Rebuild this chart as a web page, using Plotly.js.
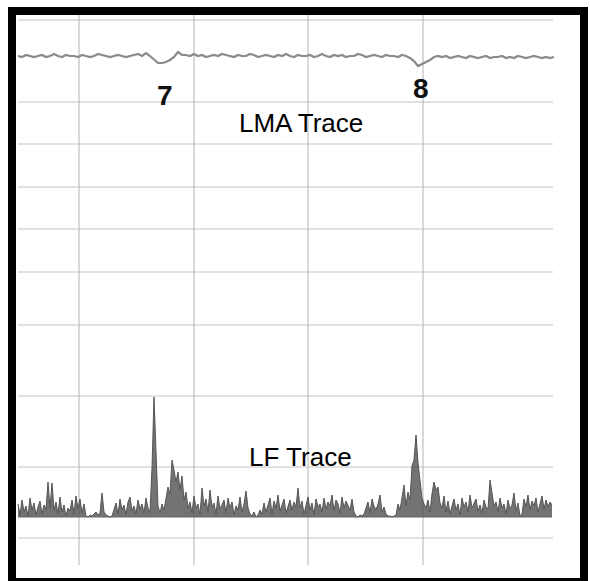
<!DOCTYPE html>
<html>
<head>
<meta charset="utf-8">
<script src="https://cdn.plot.ly/plotly-3.0.1.min.js"></script>
<style>html,body{margin:0;padding:0;background:#fff;}#chart{width:590px;height:581px;}</style>
</head>
<body>
<div id="chart"></div>
<script>
// Sample positions (horizontal, chart units) and amplitudes (vertical, chart units)
const lmaStart = 18, lmaStep = 4;
const lmaValues = [
  522,521,523,522,521,522,523,521,522,524,522,521,523,522,522,521,523,522,521,522,524,523,522,521,522,523,522,521,522,523,524,522,525,
  522,518,515,515,516,518,521,526,523,
  523,522,524,522,523,521,522,523,522,524,523,522,521,523,522,522,524,523,521,522,523,522,521,523,522,524,522,521,523,522,522,523,521,522,524,522,521,523,522,523,521,522,522,524,523,521,522,523,522,521,523,522,522,521,523,522,
  520,517,512,514,516,518,521,
  522,521,522,520,521,522,521,520,522,521,520,521,522,520,521,521,522,520,521,520,522,521,520,521,522,521,520,521,520,521
];

const lfStart = 18, lfStep = 2, lfEnd = 552;
const lfBaseline = 61;
const lfValues = [
  74,63,78,66,72,62,80,68,75,63,71,77,64,73,69,
  96,70,95,68,
  76,64,81,66,73,62,70,67,78,64,82,69,79,65,74,
  62,61,63,62,
  64,66,63,65,
  85,
  66,63,62,61,62,
  70,75,64,79,68,73,63,76,81,67,72,64,78,69,74,65,80,70,66,
  110,181,120,72,
  65,74,68,80,
  91,84,118,108,96,106,88,102,78,86,70,
  76,65,82,70,74,63,90,72,79,66,88,71,75,64,82,69,73,78,65,80,70,76,63,72,68,81,66,74,87,70,64,
  62,66,61,63,68,64,
  75,66,72,80,64,77,70,83,67,74,79,65,72,78,68,76,71,
  90,
  70,77,64,73,81,68,75,63,79,71,74,66,80,69,76,72,83,67,78,74,65,81,70,77,73,68,79,66,
  62,61,63,62,64,
  70,76,65,79,72,68,74,83,66,71,64,62,
  62,61,62,63,
  74,68,80,93,72,86,78,
  112,118,143,115,96,80,74,
  70,78,66,84,
  96,88,91,75,
  70,82,66,77,64,72,79,68,74,63,80,71,76,66,83,70,74,79,67,73,65,78,71,69,
  98,86,72,
  76,66,80,70,74,64,78,69,73,85,67,75,62,64,79,71,83,68,77,72,80,66,74,82,69,78,71,76,73
];

// Chart-paper grid positions
const gridY = [558, 476, 434, 391, 349, 306, 253, 182, 111, 40];
const gridX = [79, 194, 308, 423];

// Event markers
const eventLabels = ["7", "8"];
const eventX = [165, 421];
const eventY = [483, 490];

const traceLabels = ["LMA Trace", "LF Trace"];
const traceLabelX = [301, 300];
const traceLabelY = [455, 121];

// Build grid line traces
const hx = [], hy = [];
gridY.forEach(g => { hx.push(18, 553, null); hy.push(g, g, null); });
const vx = [], vy = [];
gridX.forEach(g => { vx.push(g, g, null); vy.push(563, 13, null); });

const data = [
  {type:'scatter', mode:'lines', x:hx, y:hy, line:{color:'#c4c4c4', width:1}, hoverinfo:'skip', showlegend:false},
  {type:'scatter', mode:'lines', x:vx, y:vy, line:{color:'#b4b4b4', width:1}, hoverinfo:'skip', showlegend:false},
  {type:'scatter', mode:'lines', x0:lmaStart, dx:lmaStep, y:lmaValues, line:{color:'#8a8a8a', width:2.2}, showlegend:false, name:'LMA'},
  {type:'scatter', mode:'lines', x:[lfStart, lfEnd], y:[lfBaseline, lfBaseline], line:{color:'#666', width:1}, hoverinfo:'skip', showlegend:false},
  {type:'scatter', mode:'lines', x0:lfStart, dx:lfStep, y:lfValues, line:{color:'#555555', width:1}, fill:'tonexty', fillcolor:'rgba(80,80,80,0.8)', showlegend:false, name:'LF'}
];

const annotations = [];
eventLabels.forEach((t, i) => annotations.push({
  x: eventX[i], y: eventY[i], xref:'x', yref:'y', text:t, showarrow:false,
  font:{family:'Liberation Sans, Arial, sans-serif', size:28, color:'#111', weight:'bold'}
}));
traceLabels.forEach((t, i) => annotations.push({
  x: traceLabelX[i], y: traceLabelY[i], xref:'x', yref:'y', text:t, showarrow:false,
  font:{family:'Liberation Sans, Arial, sans-serif', size:26, color:'#000'}
}));

const axisCommon = {showgrid:false, zeroline:false, showticklabels:false, ticks:'',
  showline:true, mirror:true, linewidth:8, linecolor:'#000', fixedrange:true};

const layout = {
  width:590, height:581,
  margin:{l:16, r:10, t:15, b:3},
  paper_bgcolor:'#fff', plot_bgcolor:'#fff',
  xaxis:Object.assign({range:[16, 580]}, axisCommon),
  yaxis:Object.assign({range:[0, 563]}, axisCommon),
  annotations: annotations,
  showlegend:false
};

Plotly.newPlot('chart', data, layout, {staticPlot:true, displayModeBar:false});
</script>
</body>
</html>
